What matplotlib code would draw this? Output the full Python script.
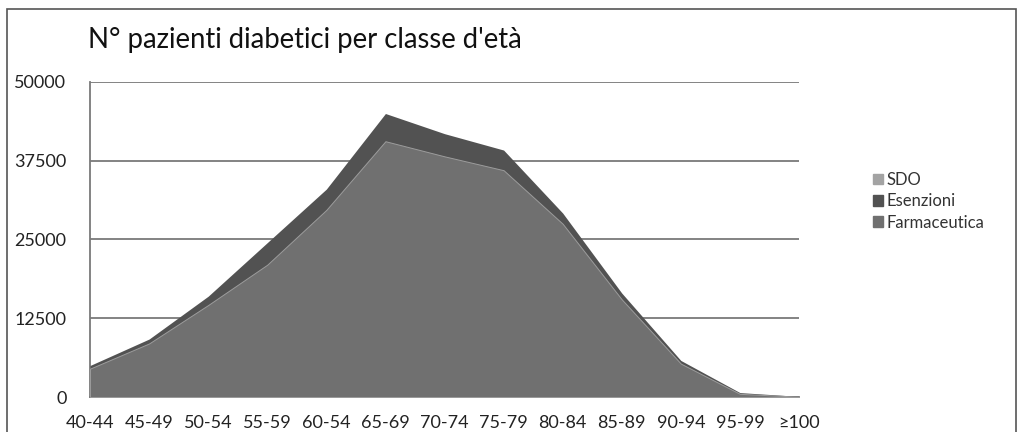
import numpy as np
import matplotlib
matplotlib.use("Agg")
import matplotlib.pyplot as plt
from matplotlib.patches import Rectangle, Patch

# classi d'età
classi = ['40-44', '45-49', '50-54', '55-59', '60-54', '65-69', '70-74',
          '75-79', '80-84', '85-89', '90-94', '95-99', '≥100']

# valori (stime)
esenzioni = [5000, 9200, 16000, 24500, 33000, 45000, 41800,
             39200, 29200, 16500, 5800, 700, 100]
farmaceutica = [4500, 8500, 14600, 21000, 29700, 40600, 38200,
                36000, 27500, 15500, 5300, 500, 50]
sdo = [3500, 6500, 11000, 16000, 22000, 30000, 28500,
       27000, 21000, 12000, 4200, 400, 40]

c_sdo = '#a3a3a3'
c_ese = '#525252'
c_far = '#707070'

plt.rcParams['font.family'] = ['Lato', 'DejaVu Sans']

fig = plt.figure(figsize=(10.22, 4.32), dpi=100)
fig.patch.set_facecolor('white')

# cornice del grafico
fig.patches.append(Rectangle((7/1022, -0.1), 1009/1022, 1.1 - 9/432,
                             transform=fig.transFigure, fill=False,
                             edgecolor='#555555', linewidth=1.2))

ax = fig.add_axes([90/1022, 1 - 397/432, 709/1022, 315/432])
x = np.arange(len(classi))

ax.fill_between(x, 0, sdo, color=c_sdo, linewidth=0, zorder=2)
ax.fill_between(x, 0, esenzioni, color=c_ese, linewidth=0, zorder=3)
ax.fill_between(x, 0, farmaceutica, facecolor=c_far, edgecolor='#9c9c9c',
                linewidth=0.7, zorder=4)

ax.set_xlim(0, len(classi) - 1)
ax.set_ylim(0, 50000)
ax.set_yticks([0, 12500, 25000, 37500, 50000])
ax.set_yticklabels(['0', '12500', '25000', '37500', '50000'])
ax.set_xticks(x)
ax.set_xticklabels(classi)
ax.tick_params(axis='both', length=0, labelsize=13, colors='#222222')
ax.tick_params(axis='y', pad=17)
ax.tick_params(axis='x', pad=13)

ax.yaxis.grid(True, color='#7a7a7a', linewidth=1.3, zorder=1)
ax.set_axisbelow(True)
for s in ['top', 'right']:
    ax.spines[s].set_visible(False)
ax.spines['left'].set_color('#7a7a7a')
ax.spines['left'].set_linewidth(1.3)
ax.spines['bottom'].set_color('#7a7a7a')
ax.spines['bottom'].set_linewidth(1.3)

fig.text(88/1022, 1 - 48/432, "N° pazienti diabetici per classe d'età",
         fontsize=19.8, color='#111111', ha='left', va='baseline')

handles = [Patch(color=c_sdo), Patch(color=c_ese), Patch(color=c_far)]
fig.legend(handles, ['SDO', 'Esenzioni', 'Farmaceutica'],
           loc='upper left', bbox_to_anchor=(858/1022, 1 - 157/432),
           frameon=False, fontsize=12, handlelength=0.6, handleheight=0.6,
           handletextpad=0.2, labelspacing=0.32, labelcolor='#333333')

fig.savefig('out.png', dpi=100, facecolor='white')
